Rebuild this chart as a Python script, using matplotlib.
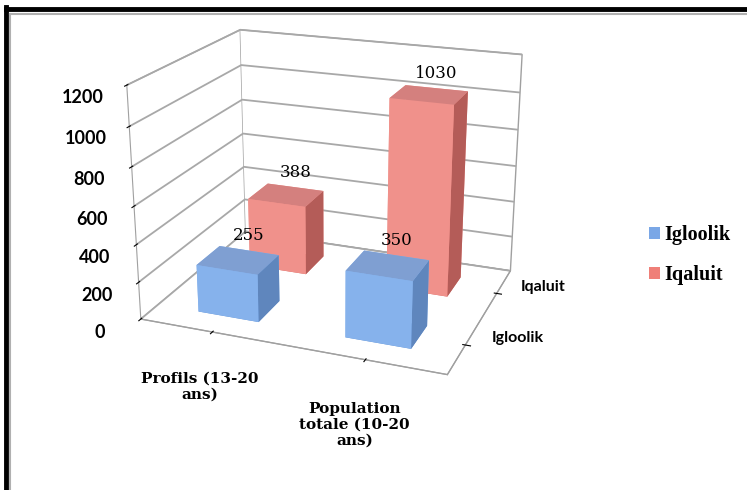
import matplotlib
matplotlib.use("Agg")
import matplotlib.pyplot as plt
from matplotlib.lines import Line2D
from matplotlib.patches import Patch
import numpy as np

categories = ["Profils (13-20\nans)", "Population\ntotale (10-20\nans)"]
series_names = ["Igloolik", "Iqaluit"]
igloolik = [255, 350]
iqaluit = [388, 1030]
zticks = [0, 200, 400, 600, 800, 1000, 1200]

# face colours: bottom, top, front(-y), back(+y), left(-x), right(+x)
face_colors = {
    "Igloolik": ["#5f8fd0", "#7f9fd2", "#86b2ec", "#86b2ec", "#86b2ec", "#5f86bd"],
    "Iqaluit": ["#d86a64", "#d4807e", "#f0918b", "#f0918b", "#f0918b", "#b45c58"],
}
legend_colors = {"Igloolik": "#7aa7e6", "Iqaluit": "#ef7f78"}

fig = plt.figure(figsize=(7.47, 4.90), dpi=100)
ax = fig.add_axes([0.112, 0.149, 0.653, 0.921], projection="3d")
ax.set_proj_type("persp", focal_length=0.5)
ax.view_init(elev=20, azim=-69)
ax.set_box_aspect((2.3, 1.8, 1.75))

w, d = 0.42, 0.42
for si, (name, vals) in enumerate(zip(series_names, [igloolik, iqaluit])):
    for ci, v in enumerate(vals):
        ax.bar3d(ci - w / 2, si - d / 2, 0, w, d, v, color=face_colors[name],
                 shade=False, edgecolor="none", alpha=1.0)
        ax.text(ci, si + d / 2, v + 35, f"{v}", ha="center", va="bottom",
                fontsize=12, family="DejaVu Serif",
                zorder=100)

ax.set_xlim(-0.5, 1.5)
ax.set_ylim(-0.5, 1.5)
ax.set_zlim(0, 1200)
ax.set_xticks([0, 1])
ax.set_xticklabels(categories, fontsize=11, fontweight="bold",
                   family="DejaVu Serif")
ax.tick_params(axis="x", pad=12)
ax.set_yticks([0, 1])
ax.set_yticklabels(["", ""])
for si, name in enumerate(series_names):
    ax.text(1.66, si, 60, name, ha="left", va="center", fontsize=11.5,
            fontweight="bold", family="Lato")
ax.set_zticks(zticks)
ax.set_zticklabels([str(t) for t in zticks], fontsize=13, fontweight="bold",
                   family="Lato")
ax.tick_params(axis="z", pad=9)
ax.zaxis.set_ticks_position("lower")
ax.zaxis.set_label_position("lower")

for axis in (ax.xaxis, ax.yaxis, ax.zaxis):
    axis.set_pane_color((1, 1, 1, 1))
    axis.pane.set_edgecolor("#a0a0a0")
    axis.line.set_color("#a0a0a0")
for axis in (ax.xaxis, ax.yaxis):
    axis._axinfo["grid"]["linewidth"] = 0
    axis._axinfo["grid"]["color"] = (1, 1, 1, 0)
ax.zaxis._axinfo["grid"]["color"] = "#a8a8a8"
ax.zaxis._axinfo["grid"]["linewidth"] = 1.3
ax.grid(True)

handles = [Patch(facecolor=legend_colors[n], edgecolor="none") for n in series_names]
fig.legend(handles, series_names, loc="center left",
           bbox_to_anchor=(0.845, 0.48), frameon=False, handlelength=0.55,
           handleheight=0.55, handletextpad=0.2, labelspacing=1.0,
           prop={"family": "Liberation Serif", "weight": "bold", "size": 14.5})

# figure frame (top and left)
fig.add_artist(Line2D([0.008, 0.008], [0, 0.985], transform=fig.transFigure,
                      color="black", lw=3.5))
fig.add_artist(Line2D([0.008, 1.0], [0.981, 0.981], transform=fig.transFigure,
                      color="black", lw=3.5))
fig.add_artist(Line2D([0.014, 1.0], [0.972, 0.972], transform=fig.transFigure,
                      color="#b0b0b0", lw=1.5))
fig.add_artist(Line2D([0.014, 0.014], [0, 0.972], transform=fig.transFigure,
                      color="#b0b0b0", lw=1.5))

fig.savefig("out.png", dpi=100)
